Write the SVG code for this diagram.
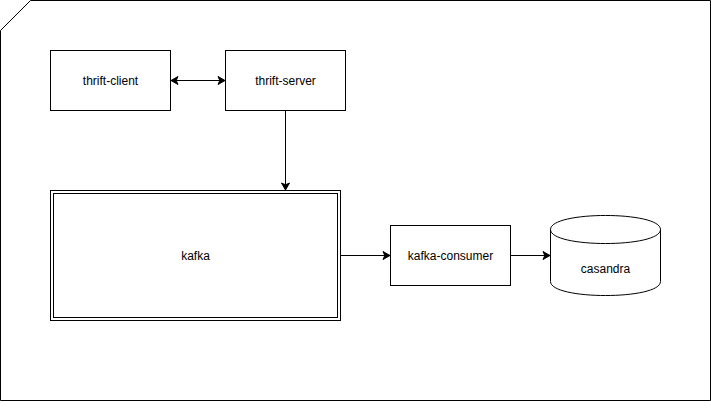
<svg xmlns="http://www.w3.org/2000/svg" width="711" height="409" viewBox="0 0 711 409">
<style>
.box{fill:#ffffff;stroke:#000000;stroke-width:1}
.lbl{font-family:"Liberation Sans",Arial,sans-serif;font-size:12px;fill:#000000;text-anchor:middle}
.edge{fill:none;stroke:#000000;stroke-width:1}
</style>
<defs>
<marker id="arr" markerUnits="userSpaceOnUse" markerWidth="10" markerHeight="10" refX="7" refY="4" orient="auto-start-reverse" overflow="visible">
<path d="M0,0 L7,4 L0,8 L1.8,4 Z" fill="#000000" stroke="#000000" stroke-width="1"/>
</marker>
</defs>
<rect width="711" height="409" fill="#ffffff"/>
<g id="frame">
<path class="box" d="M30.5,0.5 H710.5 V400.5 H0.5 V30.5 Z"/>
</g>
<g id="thrift-client">
<rect class="box" x="50.5" y="50.5" width="120" height="60"/>
<text class="lbl" x="110.5" y="84.5">thrift-client</text>
</g>
<g id="thrift-server">
<rect class="box" x="225.5" y="50.5" width="120" height="60"/>
<text class="lbl" x="285.5" y="84.5">thrift-server</text>
</g>
<g id="kafka">
<rect class="box" x="50.5" y="190.5" width="290" height="130"/>
<rect class="box" x="53.5" y="193.5" width="284" height="124"/>
<text class="lbl" x="195.5" y="259.5">kafka</text>
</g>
<g id="kafka-consumer">
<rect class="box" x="390.5" y="225.5" width="120" height="60"/>
<text class="lbl" x="450.5" y="259.5">kafka-consumer</text>
</g>
<g id="casandra">
<path class="box" d="M550.5,229.5 C550.5,210.8 660.5,210.8 660.5,229.5 L660.5,281.5 C660.5,300.2 550.5,300.2 550.5,281.5 Z"/>
<path class="edge" d="M550.5,229.5 C550.5,248.2 660.5,248.2 660.5,229.5"/>
<text class="lbl" x="605.5" y="272.5">casandra</text>
</g>
<g id="connectors">
<line class="edge" x1="171" y1="80.5" x2="225" y2="80.5" marker-start="url(#arr)" marker-end="url(#arr)"/>
<line class="edge" x1="285.5" y1="111" x2="285.5" y2="190" marker-end="url(#arr)"/>
<line class="edge" x1="341" y1="255.5" x2="390" y2="255.5" marker-end="url(#arr)"/>
<line class="edge" x1="511" y1="255.5" x2="550" y2="255.5" marker-end="url(#arr)"/>
</g>
</svg>
